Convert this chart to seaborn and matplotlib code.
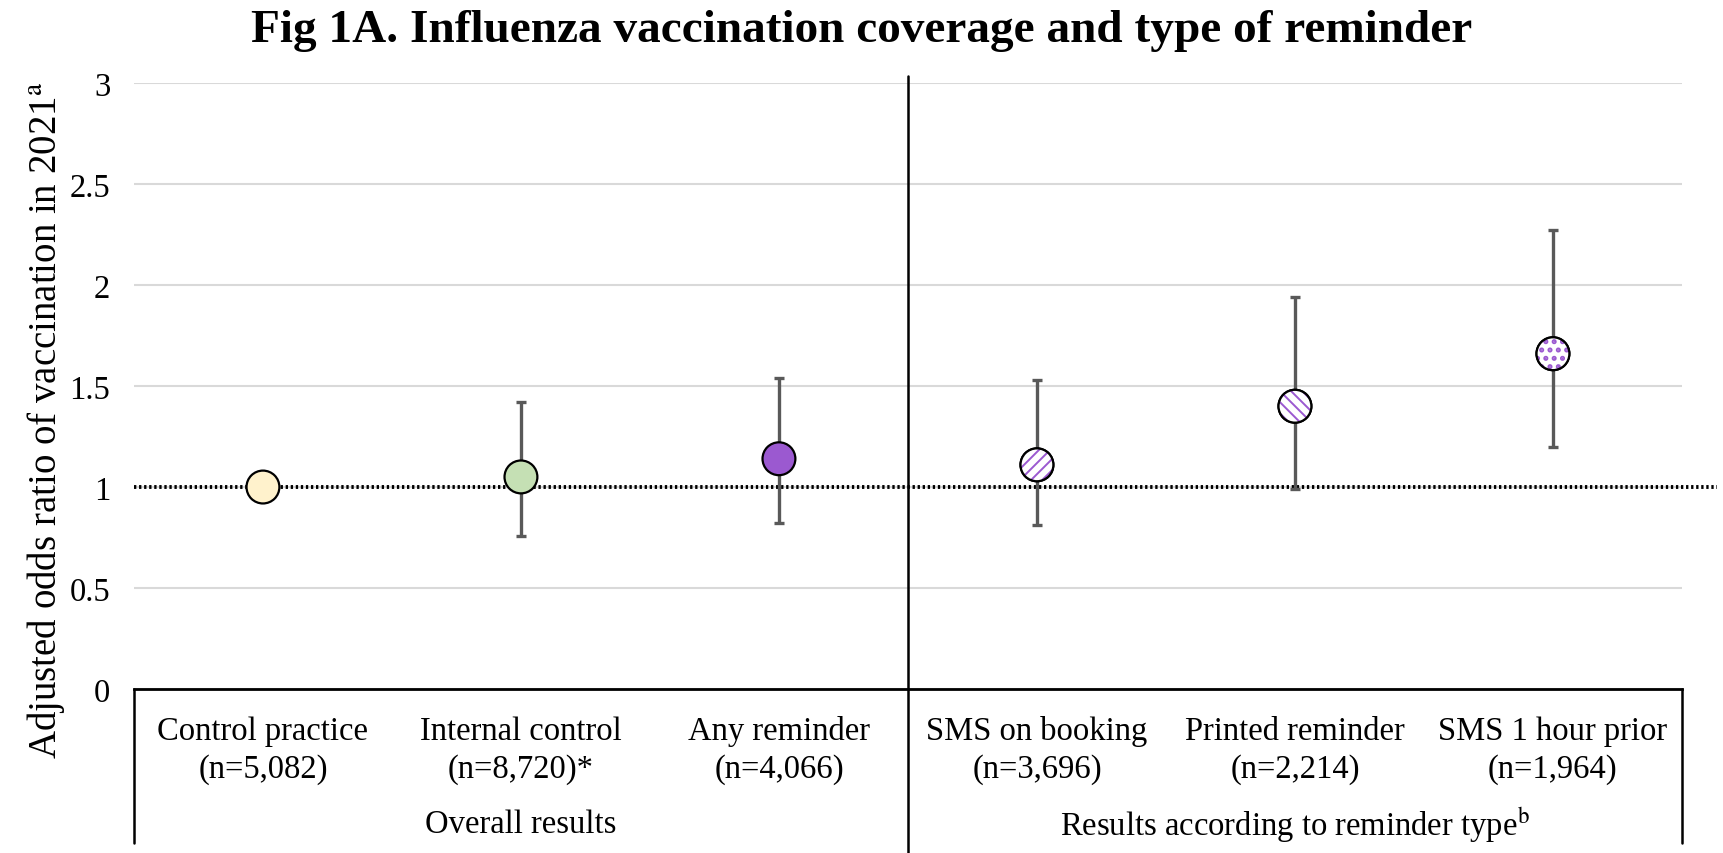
import numpy as np
import pandas as pd
import matplotlib
matplotlib.use('Agg')
import matplotlib.pyplot as plt
import matplotlib.transforms as mtransforms
import seaborn as sns

# datos
categorias = ['Control practice', 'Internal control', 'Any reminder',
              'SMS on booking', 'Printed reminder', 'SMS 1 hour prior']
n_labels = ['(n=5,082)', '(n=8,720)*', '(n=4,066)', '(n=3,696)', '(n=2,214)', '(n=1,964)']
odds_ratio = [1.00, 1.05, 1.14, 1.11, 1.40, 1.66]
ic_inf = [np.nan, 0.76, 0.82, 0.81, 0.99, 1.20]
ic_sup = [np.nan, 1.42, 1.54, 1.53, 1.94, 2.27]
grupos = ['Overall results', 'Results according to reminder type$^{\\mathrm{b}}$']
grupo_centro = [1, 4]
yticks = [0, 0.5, 1, 1.5, 2, 2.5, 3]

colores = {'Control practice': '#FFF2CC', 'Internal control': '#C5E0B4',
           'Any reminder': '#9B59D0', 'SMS on booking': 'white',
           'Printed reminder': 'white', 'SMS 1 hour prior': 'white'}
hatches = {'SMS on booking': ('///', 1.4), 'Printed reminder': ('\\\\\\', 1.4),
           'SMS 1 hour prior': ('..', 2.4)}
violeta = '#9B59D0'

sns.set_style('white')
plt.rcParams['font.family'] = ['Liberation Serif', 'DejaVu Serif']
plt.rcParams['mathtext.fontset'] = 'stix'
plt.rcParams['text.color'] = 'black'
plt.rcParams['axes.labelcolor'] = 'black'
plt.rcParams['xtick.color'] = 'black'
plt.rcParams['ytick.color'] = 'black'
plt.rcParams['hatch.color'] = violeta

df = pd.DataFrame({'pos': np.arange(len(categorias)), 'categoria': categorias,
                   'OR': odds_ratio, 'lo': ic_inf, 'hi': ic_sup})

fig = plt.figure(figsize=(17.24, 8.54), dpi=100)
ax = fig.add_axes([0.0777, 0.192, 0.8979, 0.7096])

# barras de error
err = np.array([df['OR'] - df['lo'], df['hi'] - df['OR']])
ax.errorbar(df['pos'], df['OR'], yerr=err, fmt='none', ecolor='#595959',
            elinewidth=2.4, capsize=3.8, capthick=2.4, zorder=2)

# linea de referencia OR = 1
trans = mtransforms.blended_transform_factory(ax.transAxes, ax.transData)
ax.plot([0, 1.0226], [1, 1], transform=trans, color='black', lw=2.8,
        linestyle=(0, (0.6, 0.7)), clip_on=False, zorder=1.5)

sns.scatterplot(data=df, x='pos', y='OR', hue='categoria', palette=colores,
                s=560, edgecolor='black', linewidth=1.6, legend=False, ax=ax, zorder=3)

for cat, (h, hlw) in hatches.items():
    sub = df[df['categoria'] == cat]
    plt.rcParams['hatch.linewidth'] = hlw
    ax.scatter(sub['pos'], sub['OR'], s=560, facecolor='white', edgecolor=violeta,
               linewidth=0, hatch=h, zorder=4)
    ax.scatter(sub['pos'], sub['OR'], s=560, facecolor='none', edgecolor='black',
               linewidth=1.6, zorder=5)

ax.set_xlim(-0.5, 5.5)
ax.set_ylim(0, 3)
ax.set_yticks(yticks, labels=[f'{v:g}' for v in yticks])
ax.set_xticks(df['pos'], labels=[f'{c}\n{n}' for c, n in zip(categorias, n_labels)])
ax.tick_params(axis='x', length=0, pad=19, labelsize=23.5)
ax.tick_params(axis='y', length=0, pad=17, labelsize=23.5)
for t in ax.get_xticklabels():
    t.set_linespacing(1.3)
ax.yaxis.grid(True, color='#D9D9D9', lw=1.5)
ax.set_axisbelow(True)
ax.set_xlabel('')
ax.set_ylabel('Adjusted odds ratio of vaccination in 2021$^{\\mathrm{a}}$', fontsize=28)
ax.yaxis.set_label_coords(-0.043, 0.445)

for s in ['top', 'right', 'left']:
    ax.spines[s].set_visible(False)
ax.spines['bottom'].set_color('black')
ax.spines['bottom'].set_linewidth(2)

# caja de las categorias
trans2 = mtransforms.blended_transform_factory(ax.transData, ax.transAxes)
ax.plot([2.5, 2.5], [1.0116, -0.2706], transform=trans2, color='black', lw=1.8, clip_on=False)
ax.plot([0, 0], [0, -0.254], transform=ax.transAxes, color='black', lw=1.8, clip_on=False)
ax.plot([1, 1], [0, -0.254], transform=ax.transAxes, color='black', lw=1.8, clip_on=False)

for g, xc in zip(grupos, grupo_centro):
    ax.text(xc, -0.223, g, transform=trans2, ha='center', va='center', fontsize=23.5)

fig.suptitle('Fig 1A. Influenza vaccination coverage and type of reminder',
             fontsize=34, fontweight='bold', y=0.988, va='top')

fig.savefig('out.png', dpi=100)
